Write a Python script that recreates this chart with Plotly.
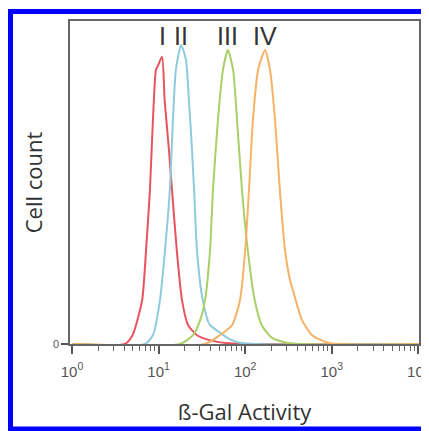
import plotly.graph_objects as go

# ---- data (x given as log10 of beta-Gal activity, y = relative cell count) ----
red_log10 = [0.0, 0.61, 0.70, 0.81, 0.855, 0.90, 0.935, 0.97, 0.99, 1.04, 1.07, 1.12, 1.155, 1.21, 1.27, 1.34, 1.44, 1.59, 1.82, 4.0]
red_count = [0, 0, 2.8, 13.6, 29, 47.7, 69.6, 85, 86, 88.9, 75.5, 60, 47.7, 29, 13.6, 5.9, 2.8, 1.2, 0.2, 0]

cyan_log10 = [0.0, 0.843, 0.935, 1.016, 1.074, 1.13, 1.166, 1.20, 1.26, 1.316, 1.35, 1.386, 1.41, 1.443, 1.51, 1.59, 1.71, 1.82, 1.97, 4.0]
cyan_count = [0, 0, 2.8, 13.6, 29, 47.7, 69.6, 85, 92.6, 88, 75.5, 60, 47.7, 29, 13.6, 6, 3.5, 1.5, 0.2, 0]

green_log10 = [0.0, 1.247, 1.40, 1.48, 1.536, 1.594, 1.628, 1.686, 1.744, 1.80, 1.86, 1.905, 1.963, 2.03, 2.11, 2.19, 2.31, 2.52, 4.0]
green_count = [0, 0, 2.8, 7.4, 13.6, 29, 47.7, 69.6, 85, 91, 85, 69.6, 47.7, 29, 13.6, 5.9, 1.9, 0.2, 0]

orange_log10 = [0.0, 1.536, 1.71, 1.85, 1.94, 2.0, 2.044, 2.09, 2.15, 2.23, 2.286, 2.344, 2.40, 2.46, 2.52, 2.55, 2.656, 2.77, 2.98, 4.0]
orange_count = [0, 0, 2.8, 5.9, 13.6, 29, 47.7, 69.6, 85, 91, 85, 69.6, 47.7, 29, 19.5, 16.7, 7.4, 2.8, 0.2, 0]

series_names = ["I", "II", "III", "IV"]
series_colors = ["#e8545e", "#8fcbdc", "#a9d067", "#f6b266"]

x_tick_vals = [1, 10, 100, 1000, 10000]
x_tick_text = ["10<sup>0</sup>", "10<sup>1</sup>", "10<sup>2</sup>", "10<sup>3</sup>", "10<sup>4</sup>"]
x_minor_vals = [m * d for d in (1, 10, 100, 1000) for m in range(2, 10)]
y_tick_vals = [0]
y_tick_text = ["0"]

all_log = [red_log10, cyan_log10, green_log10, orange_log10]
all_cnt = [red_count, cyan_count, green_count, orange_count]

# figure geometry (page body adds an 8px offset)
W, H = 421, 423
L, R, T, B = 62, 10, 13, 87
PW, PH = W - L - R, H - T - B

fig = go.Figure()
for name, col, lx, cy in zip(series_names, series_colors, all_log, all_cnt):
    fig.add_trace(go.Scatter(
        x=[10 ** v for v in lx], y=cy, mode="lines", name=name,
        line=dict(color=col, width=2, shape="spline", smoothing=0.6),
        showlegend=False, hoverinfo="skip",
    ))
    i = cy.index(max(cy))
    fig.add_annotation(
        x=lx[i], y=90.5, xref="x", yref="y", text=name, showarrow=False,
        xanchor="center", yanchor="bottom",
        font=dict(family="Liberation Sans", size=25, color="#333333"),
    )

fig.update_layout(
    width=W, height=H,
    margin=dict(l=L, r=R, t=T, b=B, autoexpand=False),
    paper_bgcolor="white", plot_bgcolor="white",
    font=dict(family="Open Sans", color="#333333"),
    xaxis=dict(
        type="log", range=[-0.023, 4.007],
        tickvals=x_tick_vals, ticktext=x_tick_text,
        ticks="outside", ticklen=8, tickwidth=1.5, tickcolor="#555555",
        tickfont=dict(family="Liberation Sans", size=15, color="#555555"),
        ticklabelstandoff=5, ticklabeloverflow="allow",
        showline=True, linecolor="#666666", linewidth=1.5, mirror=True,
        showgrid=False, zeroline=False, layer="below traces",
        minor=dict(tickvals=x_minor_vals, ticks="outside", ticklen=5, tickwidth=1,
                   tickcolor="#666666", showgrid=False),
        title=dict(text="ß-Gal Activity", font=dict(family="Open Sans", size=22, color="#333333"), standoff=26),
    ),
    yaxis=dict(
        range=[0, 100],
        tickvals=y_tick_vals, ticktext=y_tick_text,
        ticks="outside", ticklen=7, tickwidth=1.5, tickcolor="#555555",
        tickfont=dict(family="Liberation Sans", size=11, color="#555555"),
        showline=True, linecolor="#666666", linewidth=1.5, mirror=True,
        showgrid=False, zeroline=False, layer="below traces",
        title=dict(text="Cell count", font=dict(family="Open Sans", size=22, color="#333333"), standoff=4),
    ),
    shapes=[dict(
        type="rect", xref="paper", yref="paper",
        x0=(2.5 - L) / PW, x1=(419 - L) / PW,
        y0=(T + PH - 421) / PH, y1=(T + PH - 3.5) / PH,
        line=dict(color="#0000ff", width=5), fillcolor="rgba(0,0,0,0)", layer="above",
    )],
)

fig.write_html("out.html")
